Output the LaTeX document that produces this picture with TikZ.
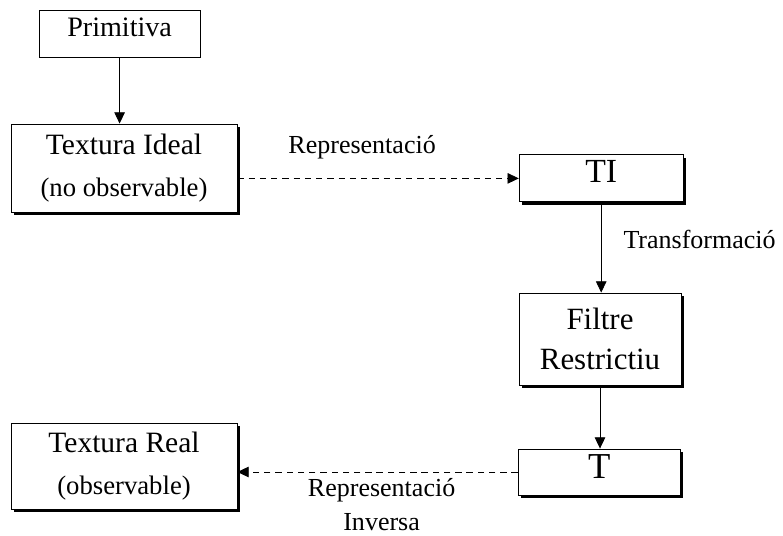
\documentclass[tikz,border=0pt]{standalone}
\usepackage{fontspec}
\setmainfont{Liberation Serif}
\usetikzlibrary{shapes,arrows.meta,shadows}

\begin{document}
\begin{tikzpicture}[-{Triangle[length=8pt,width=7.5pt]},line width=0.6pt]
	\def \toprow{12.54cm}
	\def \rowone{8.94cm}
	\def \rowtwo{4.925cm}
	\def \rowthree{1.6cm}
	\def \leftcol{3.1cm}
	\def \rightcol{15cm}

	\useasboundingbox (0,0) rectangle (19.575,13.4);

	\tikzstyle{p-node}=[rectangle,draw=black!100,fill=white,line width=0.6pt,inner sep=0pt,align=center,font=\fontsize{20}{24}\selectfont]
	\tikzstyle{s-node}=[p-node,font=\fontsize{21}{25}\selectfont,drop shadow={shadow xshift=0.075cm,shadow yshift=-0.075cm,opacity=1,fill=black}]
	% labels
	\tikzstyle{annot}=[font=\fontsize{18.5}{22}\selectfont,align=center]
	\tikzstyle{dash-line}=[dash pattern=on 4.5pt off 3.5pt]

	\node[p-node,minimum width=4.03cm,text height=0.65cm,text depth=0.525cm]	(prim)	at (2.99cm,\toprow)	{Primitiva};
	\node[s-node,minimum width=5.65cm,minimum height=2.2cm]	(tideal)	at (\leftcol,9.2cm)	{Textura Ideal\\[5pt]{\fontsize{19}{23}\selectfont (no observable)}};
	\node[s-node,minimum width=5.65cm,minimum height=2.15cm]	(treal)	at (\leftcol,1.75cm)	{Textura Real\\[5pt]{\fontsize{19}{23}\selectfont (observable)}};

	\node[s-node,minimum width=4.1cm,text height=0.7cm,text depth=0.475cm,font=\fontsize{24}{28}\selectfont]	(ti)	at (15.03cm,\rowone)	{TI};
	\node[s-node,minimum width=4.05cm,minimum height=2.3cm,font=\fontsize{22}{26}\selectfont]	(filtre)	at (\rightcol,\rowtwo)	{Filtre\\[2pt]Restrictiu};
	\node[s-node,minimum width=4.05cm,text height=0.75cm,text depth=0.4cm,font=\fontsize{26}{30}\selectfont]	(t)	at (14.98cm,\rowthree)	{T};

	\path
		(prim)	edge	(prim.south |- tideal.north)
		(tideal.east |- ti.west)	edge[dash-line]	node [annot,xshift=-0.4cm,yshift=0.78cm]	{Representació}	(ti.west)
		(ti)	edge	node [annot,right,xshift=0.43cm,yshift=0.19cm]	{Transformació}	(ti.south |- filtre.north)
		(filtre)	edge	(filtre.south |- t.north)
		(t.west)	edge[dash-line]	node [annot,xshift=0.1cm,yshift=-0.81cm]	{Representació\\[2pt]Inversa}	(t.west -| treal.east);
\end{tikzpicture}
\end{document}
